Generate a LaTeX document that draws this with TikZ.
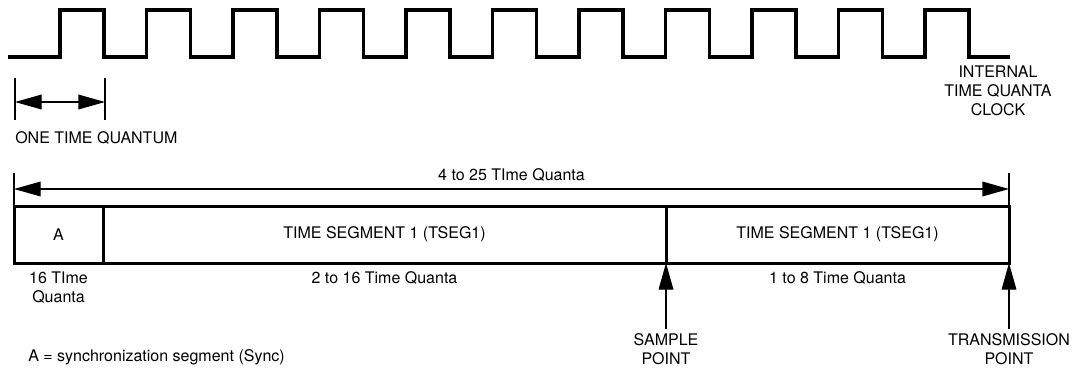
\documentclass[tikz,border=0pt]{standalone}
\usepackage{fontspec}
\setmainfont{TeX Gyre Heros}
\usetikzlibrary{arrows.meta,positioning}
\begin{document}
\begin{tikzpicture}[x=0.75pt,y=-0.75pt,font=\fontsize{12}{14.25}\selectfont,
  seg/.style={draw,line width=2.25pt,inner sep=0pt,outer sep=0pt,minimum height=42.75pt},
  clk/.style={line width=2.5pt,line join=miter},
  tick/.style={line width=0.8pt},
  dim/.style={line width=1pt,{Triangle[length=20pt,width=11pt]}-{Triangle[length=20pt,width=11pt]}},
  up/.style={line width=1pt,-{Triangle[length=20pt,width=11pt]}},
  lbl/.style={align=center}]
  \useasboundingbox (0,0) rectangle (1073,371);
  % Internal clock, eleven pulses.
  \draw[clk] (8,57) \foreach \k in {0,...,10} {
    -- ({60+86.5*\k},57) -- ++(0,-47) -- ++(44,0) -- ++(0,47)} -- (1010,57);
  \node[lbl] (clock) at (998,91) {INTERNAL\\TIME QUANTA\\CLOCK};
  % One quantum.
  \coordinate (q1) at (15,78); \coordinate (q1b) at (15,120);
  \coordinate (q2) at (105,78); \coordinate (q2b) at (105,120);
  \coordinate (qa) at (15,102); \coordinate (qb) at (105,102);
  \draw[tick] (q1) -- (q1b);
  \draw[tick] (q2) -- (q2b);
  \draw[dim] (qa) -- (qb);
  \node[anchor=west,inner sep=0pt] (quantum) at (15,138) {ONE TIME QUANTUM};
  % The bit time and its segments.
  \node[seg,minimum width=66.75pt,anchor=west] (sync) at (14,234.5) {A};
  \node[seg,minimum width=422.25pt,anchor=west] (tseg1) at (sync.east) {TIME SEGMENT 1 (TSEG1)};
  \node[seg,minimum width=257.25pt,anchor=west] (tseg2) at (tseg1.east) {TIME SEGMENT 1 (TSEG1)};
  \coordinate (bitL) at (14,173); \coordinate (bitR) at (1009,173);
  \coordinate (spanL) at (14,189); \coordinate (spanR) at (1009,189);
  \draw[tick] (bitL) -- (sync.north west);
  \draw[tick] (bitR) -- (tseg2.north east);
  \draw[dim] (spanL) -- node[midway,above=2pt] (span) {4 to 25 TIme Quanta} (spanR);
  \node[lbl,below=3pt of sync] (syncq) {16 TIme\\Quanta};
  \node[below=3pt of tseg1] (tseg1q) {2 to 16 Time Quanta};
  \node[below=3pt of tseg2] (tseg2q) {1 to 8 Time Quanta};
  % Sample and transmission points.
  \node[lbl,inner sep=3pt] (sample) at (666,349) {SAMPLE\\POINT};
  \node[lbl,inner sep=3pt] (tx) at (1009,349) {TRANSMISSION\\POINT};
  \draw[up] (sample) -- (tseg1.south east);
  \draw[up] (tx) -- (tseg2.south east);
  \node[anchor=west,inner sep=0pt] (note) at (28,357) {A = synchronization segment (Sync)};
\end{tikzpicture}
\end{document}
